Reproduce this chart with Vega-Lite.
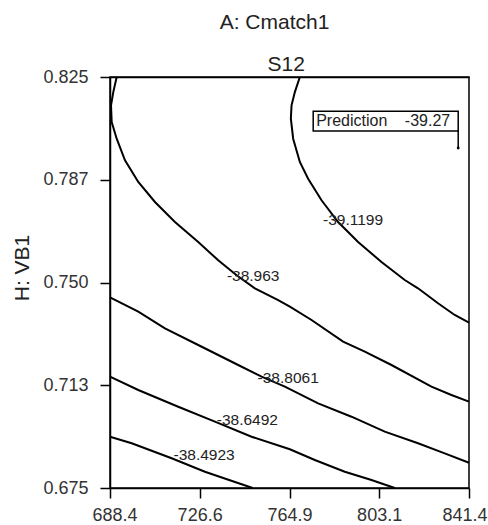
{
  "$schema": "https://vega.github.io/schema/vega-lite/v6.json",
  "width": 359,
  "height": 411,
  "autosize": {"type": "none"},
  "padding": {"left": 110, "top": 77, "right": 19, "bottom": 37},
  "background": "white",
  "title": {"text": "A: Cmatch1", "fontSize": 21, "font": "Liberation Sans", "fontWeight": "normal", "color": "#222", "anchor": "middle", "dx": -15, "dy": -16},
  "config": {
    "view": {"stroke": "black", "strokeWidth": 1.5},
    "font": "Liberation Sans",
    "axis": {"grid": false, "labelFont": "Liberation Sans", "titleFont": "Liberation Sans"}
  },
  "datasets": {
    "contours": [
      {"level": "-38.963", "i": 0, "x": 691.25, "y": 0.825},
      {"level": "-38.963", "i": 1, "x": 689.8, "y": 0.8195},
      {"level": "-38.963", "i": 2, "x": 688.83, "y": 0.81467},
      {"level": "-38.963", "i": 3, "x": 689.12, "y": 0.80858},
      {"level": "-38.963", "i": 4, "x": 691.25, "y": 0.80248},
      {"level": "-38.963", "i": 5, "x": 694.79, "y": 0.7946},
      {"level": "-38.963", "i": 6, "x": 700.45, "y": 0.78668},
      {"level": "-38.963", "i": 7, "x": 707.56, "y": 0.77938},
      {"level": "-38.963", "i": 8, "x": 716.08, "y": 0.77208},
      {"level": "-38.963", "i": 9, "x": 726.0, "y": 0.76478},
      {"level": "-38.963", "i": 10, "x": 734.52, "y": 0.7581},
      {"level": "-38.963", "i": 11, "x": 742.35, "y": 0.75263},
      {"level": "-38.963", "i": 12, "x": 750.15, "y": 0.74788},
      {"level": "-38.963", "i": 13, "x": 760.07, "y": 0.74361},
      {"level": "-38.963", "i": 14, "x": 765.05, "y": 0.74117},
      {"level": "-38.963", "i": 15, "x": 774.29, "y": 0.73631},
      {"level": "-38.963", "i": 16, "x": 787.75, "y": 0.7284},
      {"level": "-38.963", "i": 17, "x": 796.99, "y": 0.72475},
      {"level": "-38.963", "i": 18, "x": 808.36, "y": 0.71989},
      {"level": "-38.963", "i": 19, "x": 825.39, "y": 0.71197},
      {"level": "-38.963", "i": 20, "x": 833.91, "y": 0.70894},
      {"level": "-38.963", "i": 21, "x": 841.4, "y": 0.7065},
      {"level": "-39.1199", "i": 0, "x": 769.31, "y": 0.825},
      {"level": "-39.1199", "i": 1, "x": 767.18, "y": 0.8195},
      {"level": "-39.1199", "i": 2, "x": 765.77, "y": 0.81467},
      {"level": "-39.1199", "i": 3, "x": 765.48, "y": 0.80978},
      {"level": "-39.1199", "i": 4, "x": 766.46, "y": 0.80248},
      {"level": "-39.1199", "i": 5, "x": 769.31, "y": 0.79398},
      {"level": "-39.1199", "i": 6, "x": 772.84, "y": 0.78788},
      {"level": "-39.1199", "i": 7, "x": 778.55, "y": 0.78},
      {"level": "-39.1199", "i": 8, "x": 785.62, "y": 0.77208},
      {"level": "-39.1199", "i": 9, "x": 794.13, "y": 0.76478},
      {"level": "-39.1199", "i": 10, "x": 804.1, "y": 0.75748},
      {"level": "-39.1199", "i": 11, "x": 814.02, "y": 0.75091},
      {"level": "-39.1199", "i": 12, "x": 819.68, "y": 0.74788},
      {"level": "-39.1199", "i": 13, "x": 828.2, "y": 0.74241},
      {"level": "-39.1199", "i": 14, "x": 835.31, "y": 0.73814},
      {"level": "-39.1199", "i": 15, "x": 841.4, "y": 0.73533},
      {"level": "-38.8061", "i": 0, "x": 688.4, "y": 0.7446},
      {"level": "-38.8061", "i": 1, "x": 700.45, "y": 0.73934},
      {"level": "-38.8061", "i": 2, "x": 711.82, "y": 0.73329},
      {"level": "-38.8061", "i": 3, "x": 726.0, "y": 0.72719},
      {"level": "-38.8061", "i": 4, "x": 743.03, "y": 0.71989},
      {"level": "-38.8061", "i": 5, "x": 752.99, "y": 0.71562},
      {"level": "-38.8061", "i": 6, "x": 762.92, "y": 0.71197},
      {"level": "-38.8061", "i": 7, "x": 777.1, "y": 0.70591},
      {"level": "-38.8061", "i": 8, "x": 791.32, "y": 0.70102},
      {"level": "-38.8061", "i": 9, "x": 805.5, "y": 0.69555},
      {"level": "-38.8061", "i": 10, "x": 819.68, "y": 0.69131},
      {"level": "-38.8061", "i": 11, "x": 831.05, "y": 0.68766},
      {"level": "-38.8061", "i": 12, "x": 841.4, "y": 0.68423},
      {"level": "-38.6492", "i": 0, "x": 688.4, "y": 0.71562},
      {"level": "-38.6492", "i": 1, "x": 700.45, "y": 0.71077},
      {"level": "-38.6492", "i": 2, "x": 717.48, "y": 0.70467},
      {"level": "-38.6492", "i": 3, "x": 733.11, "y": 0.6992},
      {"level": "-38.6492", "i": 4, "x": 748.74, "y": 0.69372},
      {"level": "-38.6492", "i": 5, "x": 765.05, "y": 0.68912},
      {"level": "-38.6492", "i": 6, "x": 775.7, "y": 0.68522},
      {"level": "-38.6492", "i": 7, "x": 788.47, "y": 0.68095},
      {"level": "-38.6492", "i": 8, "x": 799.84, "y": 0.67792},
      {"level": "-38.6492", "i": 9, "x": 809.76, "y": 0.675},
      {"level": "-38.4923", "i": 0, "x": 688.4, "y": 0.69372},
      {"level": "-38.4923", "i": 1, "x": 697.64, "y": 0.69131},
      {"level": "-38.4923", "i": 2, "x": 714.67, "y": 0.68584},
      {"level": "-38.4923", "i": 3, "x": 728.85, "y": 0.68095},
      {"level": "-38.4923", "i": 4, "x": 749.2, "y": 0.675}
    ],
    "labels": [
      {"label": "-38.963", "x": 749.42, "y": 0.75244},
      {"label": "-39.1199", "x": 792.0, "y": 0.77288},
      {"label": "-38.8061", "x": 764.33, "y": 0.71503},
      {"label": "-38.6492", "x": 746.95, "y": 0.69971},
      {"label": "-38.4923", "x": 728.51, "y": 0.68705}
    ],
    "prediction": [
      {"label": "Prediction", "value": "-39.27", "x": 836.8, "y": 0.79909, "boxLeft": 775.0, "boxBottom": 0.80529, "boxTop": 0.81248, "textY": 0.80888}
    ]
  },
  "layer": [
    {
      "data": {"name": "contours"},
      "mark": {"type": "line", "color": "black", "strokeWidth": 2},
      "encoding": {
        "x": {
          "field": "x", "type": "quantitative",
          "scale": {"domain": [688.4, 841.4], "nice": false, "zero": false},
          "axis": {
            "orient": "bottom", "title": null,
            "values": [688.4, 726.6, 764.9, 803.1, 841.4], "format": ".1f",
            "ticks": true, "tickSize": 10, "tickColor": "black", "tickWidth": 1.5, "zindex": 1,
            "domainColor": "black", "domainWidth": 1.5,
            "labelFontSize": 18, "labelColor": "#333", "labelPadding": 8,
            "labelFlush": true, "labelFlushOffset": 18
          }
        },
        "y": {
          "field": "y", "type": "quantitative",
          "scale": {"domain": [0.675, 0.825], "nice": false, "zero": false},
          "axis": {
            "title": "H: VB1", "titleFontSize": 21, "titleFontWeight": "normal", "titleColor": "#222",
            "titleX": -81.5, "titleY": 190.5, "titleBaseline": "alphabetic", "titleAngle": -90,
            "values": [0.675, 0.7125, 0.75, 0.7875, 0.825], "format": ".3f",
            "ticks": true, "tickSize": 10, "tickColor": "black", "tickWidth": 1.5, "zindex": 1,
            "domainColor": "black", "domainWidth": 1.5,
            "labelFontSize": 18, "labelColor": "#333", "labelPadding": 12
          }
        },
        "detail": {"field": "level"},
        "order": {"field": "i", "type": "quantitative"}
      }
    },
    {
      "data": {"name": "labels"},
      "mark": {"type": "text", "fontSize": 15.5, "color": "#222", "font": "Liberation Sans"},
      "encoding": {
        "x": {"field": "x", "type": "quantitative", "axis": null},
        "y": {"field": "y", "type": "quantitative"},
        "text": {"field": "label"}
      }
    },
    {
      "data": {"name": "prediction"},
      "mark": {"type": "rect", "fill": "white", "stroke": "black", "strokeWidth": 1.5},
      "encoding": {
        "x": {"field": "boxLeft", "type": "quantitative", "axis": null},
        "x2": {"field": "x"},
        "y": {"field": "boxBottom", "type": "quantitative"},
        "y2": {"field": "boxTop"}
      }
    },
    {
      "data": {"name": "prediction"},
      "mark": {"type": "rule", "color": "black", "strokeWidth": 1.5},
      "encoding": {
        "x": {"field": "x", "type": "quantitative", "axis": {
          "orient": "top", "title": "S12", "labels": false, "ticks": false,
          "domain": true, "domainColor": "black", "domainWidth": 1.5, "zindex": 1,
          "titleFontSize": 21, "titleFontWeight": "normal", "titleColor": "#222",
          "titleX": 175.8, "titleY": -7, "titleBaseline": "alphabetic"
        }},
        "y": {"field": "y", "type": "quantitative"},
        "y2": {"field": "boxBottom"}
      }
    },
    {
      "data": {"name": "prediction"},
      "mark": {"type": "point", "filled": true, "color": "black", "size": 8, "opacity": 1},
      "encoding": {
        "x": {"field": "x", "type": "quantitative", "axis": null},
        "y": {"field": "y", "type": "quantitative"}
      }
    },
    {
      "data": {"name": "prediction"},
      "mark": {"type": "text", "fontSize": 16, "color": "#222", "align": "left", "baseline": "middle", "dx": 3, "font": "Liberation Sans"},
      "encoding": {
        "x": {"field": "boxLeft", "type": "quantitative", "axis": null},
        "y": {"field": "textY", "type": "quantitative"},
        "text": {"field": "label"}
      }
    },
    {
      "data": {"name": "prediction"},
      "mark": {"type": "text", "fontSize": 16, "color": "#222", "align": "right", "baseline": "middle", "dx": -8, "font": "Liberation Sans"},
      "encoding": {
        "x": {"field": "x", "type": "quantitative", "axis": null},
        "y": {"field": "textY", "type": "quantitative"},
        "text": {"field": "value"}
      }
    }
  ],
  "resolve": {"axis": {"x": "independent"}}
}
